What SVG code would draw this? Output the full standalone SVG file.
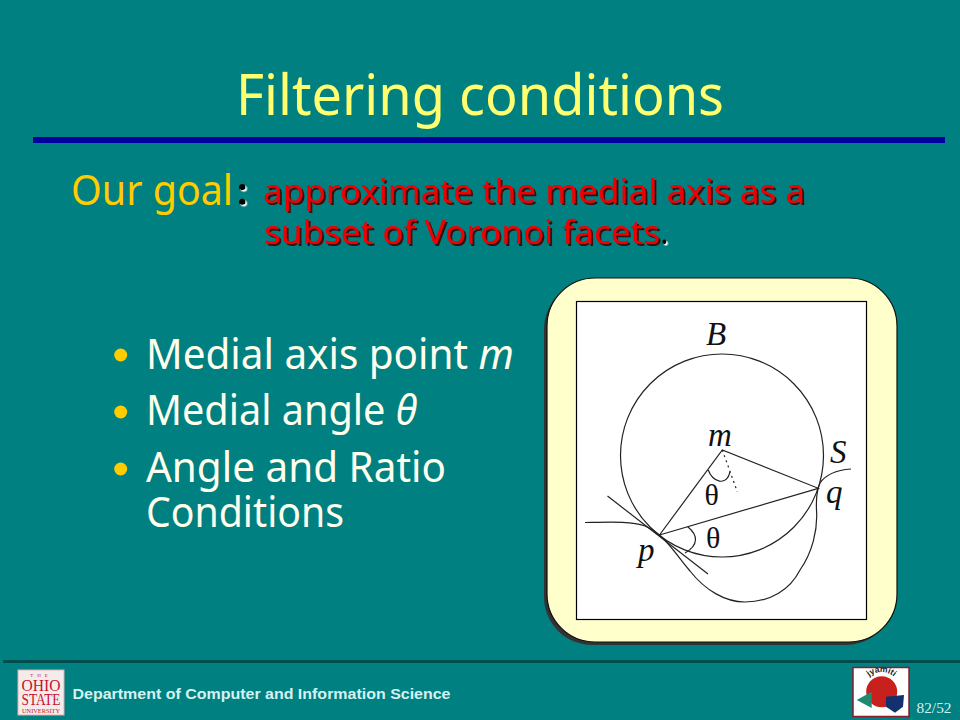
<svg xmlns="http://www.w3.org/2000/svg" width="960" height="720" viewBox="0 0 960 720">
<defs>
<filter id="shadow" x="-5%" y="-20%" width="110%" height="140%"><feDropShadow dx="2" dy="2" stdDeviation="0.5" flood-color="#3a0a0a"/></filter>
<filter id="whiteshadow" x="-100%" y="-50%" width="300%" height="200%"><feDropShadow dx="1.500" dy="1.500" stdDeviation="0.3" flood-color="#ffffff"/></filter>
<path id="arc" d="M862 692A19.500 20 0 0 1 901 692"/>
</defs>
<style>
.s{font-family:"Noto Sans","DejaVu Sans",sans-serif}
.y{fill:#ffff70}
.l{fill:#ffffee;font-size:42px}
.r{font-size:33px;fill:#f00000}
.t{font-family:"Liberation Serif",serif;fill:#111}
.i{font-style:italic;font-size:33px}
.h{font-size:30px}
.c{fill:none;stroke:#222;stroke-width:1.200}
.b{fill:#ffcc00}
</style>
<rect width="960" height="720" fill="#008080"/>
<text class="s y" x="236" y="115" font-size="56" textLength="488" lengthAdjust="spacingAndGlyphs">Filtering conditions</text>
<rect x="33" y="137" width="912" height="6" fill="#0000a0"/>
<g id="goal">
<text class="s" x="71" y="205" font-size="42" fill="#ffcc00" textLength="162" lengthAdjust="spacingAndGlyphs">Our goal</text>
<text class="s" x="237" y="205" font-size="38" font-weight="700" fill="#000" filter="url(#whiteshadow)">:</text>
<text class="s r" x="263" y="203" textLength="542" lengthAdjust="spacingAndGlyphs" filter="url(#shadow)">approximate the medial axis as a</text>
<text class="s r" x="264" y="244" textLength="396" lengthAdjust="spacingAndGlyphs" filter="url(#shadow)">subset of Voronoi facets</text>
<text class="s" x="660" y="244" font-size="33" fill="#000" filter="url(#whiteshadow)">.</text>
</g>
<g id="bullets">
<circle class="b" cx="120.700" cy="355" r="6.500"/>
<circle class="b" cx="120.700" cy="412" r="6.500"/>
<circle class="b" cx="120.700" cy="469" r="6.500"/>
<text class="s l" x="146" y="368.500" textLength="368" lengthAdjust="spacingAndGlyphs">Medial axis point <tspan font-style="italic">m</tspan></text>
<text class="s l" x="146" y="425" textLength="271" lengthAdjust="spacingAndGlyphs">Medial angle <tspan font-style="italic">θ</tspan></text>
<text class="s l" x="146" y="482" textLength="300" lengthAdjust="spacingAndGlyphs">Angle and Ratio</text>
<text class="s l" x="146" y="527" textLength="198" lengthAdjust="spacingAndGlyphs">Conditions</text>
</g>
<g id="figure">
<rect x="544" y="281" width="350" height="364" rx="48" fill="#333"/>
<rect x="547" y="278" width="350" height="364" rx="48" fill="#ffffcc" stroke="#111" stroke-width="1.200"/>
<rect x="576.500" y="301.500" width="290" height="318" fill="#fff" stroke="#000" stroke-width="1.200"/>
<circle class="c" cx="722" cy="455.500" r="101.500"/>
<path class="c" d="M585 522.500C610 522 632 521 645 526C652 529 656 532 659.500 535C672 546 680 560 690 571C705 590 725 602 745 602C770 602 790 590 800 570C812 553 818 530 816.500 510C816 500 817 490 820 483C826 474 838 470 851 469"/>
<path class="c" d="M607.500 496L708 574"/>
<path class="c" d="M659.500 535L722.300 450L818.300 488.300L659.500 535"/>
<path class="c" d="M708.300 470C712 482 727 487 730 471.700"/>
<path class="c" d="M687.700 526.700C698 535 699 545 685 553"/>
<path class="c" stroke-dasharray="2 3.500" d="M722.300 450L737.300 491.700"/>
<text class="t i" x="706" y="345">B</text>
<text class="t i" x="708" y="445.500">m</text>
<text class="t i" x="830" y="462.700">S</text>
<text class="t i" x="826" y="502.500">q</text>
<text class="t i" x="638" y="561">p</text>
<text class="t h" x="704.500" y="505">θ</text>
<text class="t h" x="706" y="548">θ</text>
</g>
<rect x="3" y="660" width="957" height="3" fill="#004d4d"/>
<g id="osu-logo">
<rect x="18" y="670" width="46" height="45" fill="#f4ecec" stroke="#e0b0b0"/>
<g font-family="Liberation Serif,serif" fill="#c8102e" text-anchor="middle">
<text x="41" y="677" font-size="5" letter-spacing="4">THE</text>
<text x="41" y="691" font-size="16" textLength="39" lengthAdjust="spacingAndGlyphs">OHIO</text>
<text x="41" y="705" font-size="16" textLength="39" lengthAdjust="spacingAndGlyphs">STATE</text>
<text x="41" y="712.500" font-size="5.500" textLength="38" lengthAdjust="spacingAndGlyphs">UNIVERSITY</text>
</g>
</g>
<text x="72.500" y="699" font-family="Liberation Sans,sans-serif" font-weight="700" font-size="14" fill="#d4f2f2" textLength="378" lengthAdjust="spacingAndGlyphs">Department of Computer and Information Science</text>
<g id="jyamiti-logo">
<rect x="853" y="667.500" width="56" height="49" fill="#fff" stroke="#8b1a2b" stroke-width="1.500"/>
<circle cx="881.700" cy="691.700" r="15.500" fill="#c8201c"/>
<path d="M856.700 700L871.700 691.700L871.700 708Z" fill="#1f8a70"/>
<path d="M886 696.700L904 695L903 706.700L895 712.700L886 706.700Z" fill="#14306e"/>
<text font-family="Liberation Sans,sans-serif" font-size="8.500" font-weight="700" fill="#222" text-anchor="middle"><textPath href="#arc" startOffset="50%">jyamiti</textPath></text>
</g>
<text x="916.500" y="712.500" font-family="Liberation Serif,serif" font-size="14.500" fill="#d4f2f2" textLength="35" lengthAdjust="spacingAndGlyphs">82/52</text>
</svg>
